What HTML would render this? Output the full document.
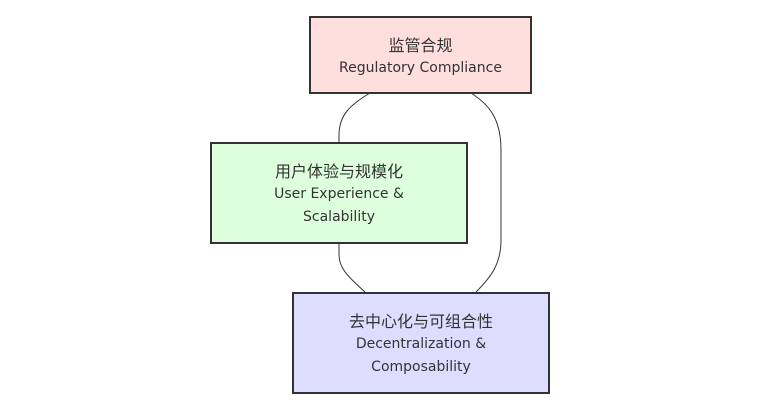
<!DOCTYPE html>
<html><head><meta charset="utf-8"><style>
body{margin:0;background:#fff;width:760px;height:408px;overflow:hidden;position:relative;font-family:"DejaVu Sans","Noto Sans CJK SC",sans-serif;color:#333}
.b{position:absolute;box-sizing:border-box;border:2px solid #333;display:flex;flex-direction:column;align-items:center;justify-content:center;font-size:14px;line-height:23px;text-align:center;padding-top:3px}
.b span{font-size:16px}
svg{position:absolute;left:0;top:0}
</style></head><body>
<svg width="760" height="408"><g fill="none" stroke="#333" stroke-width="1">
<path d="M370,93 C350,105 339,115 339,135 L339,142"/>
<path d="M471,93 C490,105 501,120 501,150 L501,240 C501,265 490,278 476,292"/>
<path d="M339,243 L339,255 C339,270 352,280 365,292"/>
</g></svg>
<div class="b" style="left:309px;top:16px;width:223px;height:78px;background:#ffdede"><span>监管合规</span>Regulatory Compliance</div>
<div class="b" style="left:210px;top:142px;width:258px;height:102px;background:#ddffdd"><span>用户体验与规模化</span>User Experience &amp;<br>Scalability</div>
<div class="b" style="left:292px;top:292px;width:258px;height:102px;background:#ddddff"><span>去中心化与可组合性</span>Decentralization &amp;<br>Composability</div>
</body></html>
